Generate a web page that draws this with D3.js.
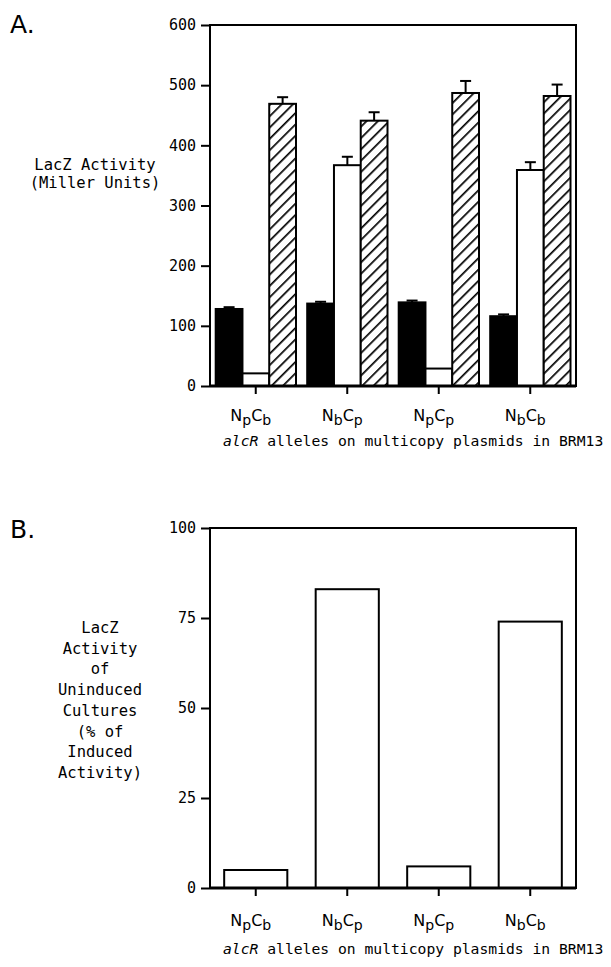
<!DOCTYPE html>
<html>
<head>
<meta charset="utf-8">
<script src="https://cdn.jsdelivr.net/npm/d3@7"></script>
<style>
  body { margin: 0; background: #fff; }
  text { font-family: "DejaVu Sans Mono", monospace; fill: #000; }
</style>
</head>
<body>
<div id="chart"></div>
<script>
// alleles (N-term / C-term origin), written as [N sub, C sub]
const alleles = [['p', 'b'], ['b', 'p'], ['p', 'p'], ['b', 'b']];
const alleleKeys = alleles.map(a => 'N' + a[0] + 'C' + a[1]);

// panel A: LacZ activity (Miller units)
const solidVals = [128, 137, 139, 116];
const solidErr = [3, 3, 3, 3];
const openVals = [21, 367, 29, 359];
const openErr = [0, 14, 0, 13];
const hatchVals = [469, 441, 487, 482];
const hatchErr = [11, 14, 20, 19];
const ticksA = [0, 100, 200, 300, 400, 500, 600];

// panel B: uninduced as % of induced
const pctVals = [5, 83, 6, 74];
const ticksB = [0, 25, 50, 75, 100];

const yLabelA = ['LacZ Activity', '(Miller Units)'];
const yLabelB = ['LacZ', 'Activity', 'of', 'Uninduced', 'Cultures', '(% of', 'Induced', 'Activity)'];

const W = 611, H = 967;
const left = 210, right = 576;

const svg = d3.select('#chart').append('svg')
    .attr('width', W)
    .attr('height', H);

const defs = svg.append('defs');
const pat = defs.append('pattern')
    .attr('id', 'hatch')
    .attr('patternUnits', 'userSpaceOnUse')
    .attr('width', 8)
    .attr('height', 8)
    .attr('patternTransform', 'rotate(45)');
pat.append('rect').attr('width', 8).attr('height', 8).attr('fill', '#fff');
pat.append('line')
    .attr('x1', 0).attr('y1', 0).attr('x2', 0).attr('y2', 8)
    .attr('stroke', '#000').attr('stroke-width', 3.4);

function drawAxes(g, y, ticks, top, bottom) {
    // y axis
    const ya = g.append('g')
        .attr('transform', `translate(${left},0)`)
        .call(d3.axisLeft(y).tickValues(ticks).tickSize(9).tickPadding(5));
    ya.select('.domain').remove();
    ya.selectAll('line').attr('stroke-width', 2);
    ya.selectAll('text').style('font-size', '15px');

    // frame
    g.append('rect')
        .attr('x', left).attr('y', top)
        .attr('width', right - left).attr('height', bottom - top)
        .attr('fill', 'none').attr('stroke', '#000').attr('stroke-width', 2);
}

function drawXLabels(g, x, base, labelY, captionY) {
    g.append('g').selectAll('line')
        .data(alleleKeys)
        .join('line')
        .attr('x1', d => x(d) + x.bandwidth() / 2)
        .attr('x2', d => x(d) + x.bandwidth() / 2)
        .attr('y1', base).attr('y2', base + 8)
        .attr('stroke', '#000').attr('stroke-width', 2);

    const lbl = g.append('g').selectAll('text')
        .data(alleles)
        .join('text')
        .attr('x', (d, i) => x(alleleKeys[i]) + x.bandwidth() / 2 - 5)
        .attr('y', labelY)
        .attr('text-anchor', 'middle')
        .style('font-family', '"DejaVu Sans", sans-serif')
        .style('font-size', '16px');
    lbl.append('tspan').text('N');
    lbl.append('tspan').attr('dy', 4).style('font-size', '14px').text(d => d[0]);
    lbl.append('tspan').attr('dy', -4).text('C');
    lbl.append('tspan').attr('dy', 4).style('font-size', '14px').text(d => d[1]);

    const cap = g.append('text')
        .attr('x', 223).attr('y', captionY)
        .style('font-size', '14.7px');
    cap.append('tspan').style('font-style', 'italic').text('alcR');
    cap.append('tspan').text(' alleles on multicopy plasmids in BRM13');
}

// ---------- panel A ----------
const gA = svg.append('g');
const topA = 25, botA = 386;
const yA = d3.scaleLinear().domain([0, 600]).range([botA, topA]);
const xA = d3.scaleBand().domain(alleleKeys).range([left, right]);
const xSub = d3.scaleBand().domain([0, 1, 2]).range([5.7, xA.bandwidth() - 5.5]);

const seriesA = [
    {vals: solidVals, err: solidErr, fill: '#000'},
    {vals: openVals, err: openErr, fill: '#fff'},
    {vals: hatchVals, err: hatchErr, fill: 'url(#hatch)'}
];

seriesA.forEach((s, si) => {
    const bars = alleleKeys.map((k, i) => ({k: k, v: s.vals[i], e: s.err[i]}));
    const bx = d => xA(d.k) + xSub(si);
    // error bars (upper only)
    gA.append('g').selectAll('line')
        .data(bars.filter(d => d.e > 0))
        .join('line')
        .attr('x1', d => bx(d) + xSub.bandwidth() / 2)
        .attr('x2', d => bx(d) + xSub.bandwidth() / 2)
        .attr('y1', d => yA(d.v)).attr('y2', d => yA(d.v + d.e))
        .attr('stroke', '#000').attr('stroke-width', 2);
    gA.append('g').selectAll('line')
        .data(bars.filter(d => d.e > 0))
        .join('line')
        .attr('x1', d => bx(d) + xSub.bandwidth() / 2 - 5.5)
        .attr('x2', d => bx(d) + xSub.bandwidth() / 2 + 5.5)
        .attr('y1', d => yA(d.v + d.e)).attr('y2', d => yA(d.v + d.e))
        .attr('stroke', '#000').attr('stroke-width', 2);
    gA.append('g').selectAll('rect')
        .data(bars)
        .join('rect')
        .attr('x', bx)
        .attr('y', d => yA(d.v))
        .attr('width', xSub.bandwidth())
        .attr('height', d => botA - yA(d.v))
        .attr('fill', s.fill)
        .attr('stroke', '#000')
        .attr('stroke-width', 2);
});

drawAxes(gA, yA, ticksA, topA, botA);
gA.append('line')
    .attr('x1', left).attr('x2', right).attr('y1', botA).attr('y2', botA)
    .attr('stroke', '#000').attr('stroke-width', 3);
drawXLabels(gA, xA, botA, 421, 446);

gA.append('text').attr('x', 10).attr('y', 33)
    .style('font-family', '"DejaVu Sans", sans-serif')
    .style('font-size', '25px').text('A.');

gA.append('g').selectAll('text')
    .data(yLabelA)
    .join('text')
    .attr('x', 95)
    .attr('y', (d, i) => 170 + i * 18)
    .attr('text-anchor', 'middle')
    .style('font-size', '15.5px')
    .text(d => d);

// ---------- panel B ----------
const gB = svg.append('g');
const topB = 528, botB = 888;
const yB = d3.scaleLinear().domain([0, 100]).range([botB, topB]);
const xB = d3.scaleBand().domain(alleleKeys).range([left, right])
    .paddingInner(0.31).paddingOuter(0.155);
const xBt = d3.scaleBand().domain(alleleKeys).range([left, right]);

gB.append('g').selectAll('rect')
    .data(pctVals)
    .join('rect')
    .attr('x', (d, i) => xB(alleleKeys[i]))
    .attr('y', d => yB(d))
    .attr('width', xB.bandwidth())
    .attr('height', d => botB - yB(d))
    .attr('fill', '#fff')
    .attr('stroke', '#000')
    .attr('stroke-width', 2);

drawAxes(gB, yB, ticksB, topB, botB);
gB.append('line')
    .attr('x1', left).attr('x2', right).attr('y1', botB).attr('y2', botB)
    .attr('stroke', '#000').attr('stroke-width', 3);
drawXLabels(gB, xBt, botB, 926, 954);

gB.append('text').attr('x', 10).attr('y', 538)
    .style('font-family', '"DejaVu Sans", sans-serif')
    .style('font-size', '25px').text('B.');

gB.append('g').selectAll('text')
    .data(yLabelB)
    .join('text')
    .attr('x', 100)
    .attr('y', (d, i) => 633 + i * 20.7)
    .attr('text-anchor', 'middle')
    .style('font-size', '15.5px')
    .text(d => d);
</script>
</body>
</html>
